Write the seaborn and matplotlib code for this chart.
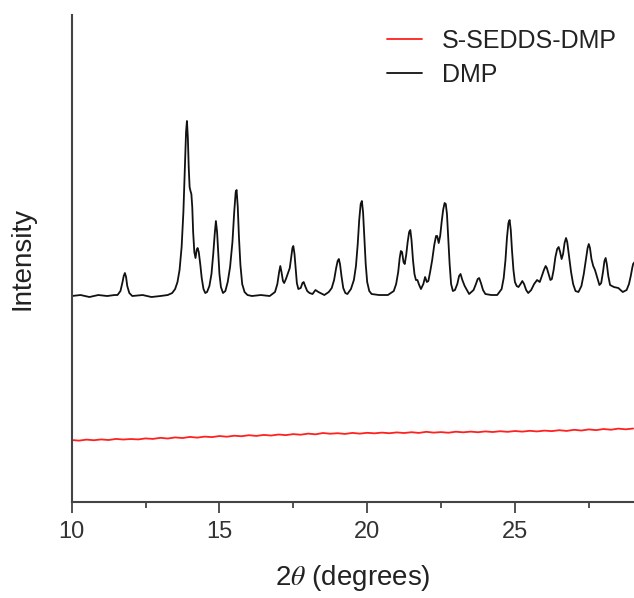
import numpy as np
import pandas as pd
import seaborn as sns
import matplotlib
matplotlib.use("Agg")
import matplotlib.pyplot as plt
from matplotlib.ticker import MultipleLocator

# DMP pattern (2theta in degrees, intensity in a.u.)
dmp_2theta = [10.00, 10.30, 10.60, 10.90, 11.20, 11.45, 11.55, 11.65, 11.72, 11.76,
              11.80, 11.84, 11.88, 11.95, 12.05, 12.40, 12.70, 13.00, 13.25, 13.40,
              13.50, 13.58, 13.65, 13.72, 13.78, 13.83, 13.87, 13.90, 13.93, 13.96,
              13.99, 14.02, 14.05, 14.08, 14.11, 14.15, 14.19, 14.23, 14.26, 14.30,
              14.35, 14.40, 14.46, 14.52, 14.58, 14.66, 14.73, 14.79, 14.84, 14.88,
              14.92, 14.96, 15.00, 15.05, 15.12, 15.20, 15.28, 15.36, 15.44, 15.50,
              15.55, 15.58, 15.62, 15.66, 15.71, 15.77, 15.85, 15.95, 16.10, 16.40,
              16.70, 16.88, 16.96, 17.02, 17.06, 17.10, 17.15, 17.19, 17.25, 17.32,
              17.38, 17.43, 17.47, 17.50, 17.54, 17.58, 17.62, 17.67, 17.75, 17.81,
              17.85, 17.90, 17.97, 18.05, 18.15, 18.25, 18.35, 18.55, 18.70, 18.80,
              18.88, 18.95, 19.00, 19.04, 19.08, 19.13, 19.19, 19.26, 19.33, 19.45,
              19.55, 19.62, 19.68, 19.73, 19.78, 19.82, 19.86, 19.90, 19.95, 20.00,
              20.07, 20.15, 20.40, 20.70, 20.90, 20.98, 21.05, 21.10, 21.14, 21.18,
              21.23, 21.27, 21.32, 21.37, 21.42, 21.46, 21.50, 21.55, 21.60, 21.65,
              21.70, 21.76, 21.82, 21.90, 21.96, 22.02, 22.07, 22.13, 22.20, 22.27,
              22.33, 22.37, 22.42, 22.47, 22.52, 22.57, 22.62, 22.66, 22.70, 22.74,
              22.79, 22.84, 22.90, 22.97, 23.05, 23.11, 23.16, 23.22, 23.30, 23.45,
              23.60, 23.68, 23.74, 23.79, 23.85, 23.92, 24.00, 24.20, 24.40, 24.55,
              24.62, 24.68, 24.73, 24.78, 24.82, 24.86, 24.90, 24.95, 25.00, 25.06,
              25.12, 25.19, 25.25, 25.31, 25.38, 25.45, 25.55, 25.65, 25.75, 25.84,
              25.90, 25.98, 26.04, 26.08, 26.14, 26.20, 26.25, 26.31, 26.37, 26.43,
              26.48, 26.53, 26.58, 26.63, 26.68, 26.73, 26.77, 26.83, 26.90, 26.97,
              27.05, 27.15, 27.25, 27.33, 27.40, 27.46, 27.50, 27.54, 27.59, 27.65,
              27.71, 27.78, 27.86, 27.92, 27.98, 28.03, 28.07, 28.11, 28.16, 28.22,
              28.35, 28.50, 28.65, 28.78, 28.86, 28.92, 28.97, 29.00, 29.05]
dmp_int = [206, 207, 205, 207, 206, 207, 207, 211, 220, 226,
           229, 225, 216, 209, 206, 207, 205, 206, 207, 209,
           213, 220, 232, 255, 290, 335, 370, 381, 365, 335,
           315, 311, 308, 295, 270, 250, 244, 252, 254, 250,
           238, 224, 213, 209, 210, 216, 228, 248, 268, 281,
           270, 248, 228, 215, 209, 211, 220, 235, 260, 290,
           310, 312, 295, 265, 237, 218, 210, 207, 206, 207,
           206, 210, 218, 230, 236, 230, 221, 219, 223, 229,
           234, 245, 254, 256, 248, 233, 219, 213, 214, 219,
           220, 216, 211, 209, 208, 212, 210, 207, 210, 214,
           222, 234, 241, 243, 238, 226, 214, 209, 208, 213,
           222, 236, 258, 282, 298, 301, 290, 266, 238, 220,
           211, 208, 207, 207, 211, 218, 230, 244, 251, 250,
           240, 238, 247, 260, 270, 272, 262, 242, 228, 222,
           222, 217, 213, 218, 225, 220, 221, 230, 242, 257,
           266, 266, 259, 266, 280, 292, 299, 298, 288, 266,
           238, 218, 211, 212, 218, 226, 228, 222, 216, 208,
           212, 218, 223, 224, 219, 212, 208, 207, 207, 213,
           224, 242, 264, 279, 282, 272, 252, 232, 220, 216,
           215, 218, 221, 218, 212, 209, 212, 218, 222, 220,
           225, 232, 236, 234, 228, 222, 223, 232, 245, 253,
           255, 250, 243, 248, 259, 264, 260, 246, 230, 218,
           211, 210, 216, 228, 242, 254, 258, 254, 243, 236,
           232, 225, 217, 219, 230, 241, 244, 238, 226, 217,
           215, 214, 210, 212, 218, 226, 234, 238, 240]

# S-SEDDS-DMP pattern (amorphous, almost flat)
sedds_2theta = [10.00, 10.25, 10.50, 10.75, 11.00, 11.25, 11.50, 11.75, 12.00, 12.25,
                12.50, 12.75, 13.00, 13.25, 13.50, 13.75, 14.00, 14.25, 14.50, 14.75,
                15.00, 15.25, 15.50, 15.75, 16.00, 16.25, 16.50, 16.75, 17.00, 17.25,
                17.50, 17.75, 18.00, 18.25, 18.50, 18.75, 19.00, 19.25, 19.50, 19.75,
                20.00, 20.25, 20.50, 20.75, 21.00, 21.25, 21.50, 21.75, 22.00, 22.25,
                22.50, 22.75, 23.00, 23.25, 23.50, 23.75, 24.00, 24.25, 24.50, 24.75,
                25.00, 25.25, 25.50, 25.75, 26.00, 26.25, 26.50, 26.75, 27.00, 27.25,
                27.50, 27.75, 28.00, 28.25, 28.50, 28.75, 29.00]
sedds_int = [62.0, 61.4, 62.4, 61.8, 62.6, 62.0, 63.1, 62.5, 63.0, 62.6,
             63.6, 63.1, 64.2, 63.5, 64.6, 64.0, 65.1, 64.4, 65.4, 64.9,
             66.0, 65.3, 66.3, 65.8, 66.8, 66.1, 67.1, 66.5, 67.5, 66.9,
             67.9, 67.3, 68.4, 67.7, 69.0, 68.3, 68.8, 68.1, 69.1, 68.4,
             69.2, 68.7, 69.4, 68.8, 69.6, 69.0, 69.8, 69.1, 70.2, 69.4,
             69.9, 69.3, 70.3, 69.7, 70.4, 69.8, 70.6, 70.0, 70.8, 70.2,
             71.0, 70.4, 71.2, 70.6, 71.4, 70.9, 71.8, 71.1, 72.2, 71.5,
             72.6, 71.9, 73.0, 72.3, 73.4, 72.7, 73.5]

sns.set_style("ticks")
plt.rcParams['font.family'] = ['Liberation Sans', 'DejaVu Sans']
plt.rcParams['mathtext.fontset'] = 'stix'

fig = plt.figure(figsize=(6.34, 5.98), dpi=100)
ax = fig.add_axes([0.1131, 0.1605, 0.8869, 0.8144])

sns.lineplot(x=sedds_2theta, y=sedds_int, ax=ax, color='#ff2020', lw=1.3,
             label='S-SEDDS-DMP')
sns.lineplot(x=dmp_2theta, y=dmp_int, ax=ax, color='#111111', lw=1.3,
             label='DMP')

ax.set_xlim(10, 29.03)
ax.set_ylim(0, 487)
ax.set_yticks([])
ax.xaxis.set_major_locator(MultipleLocator(5))
ax.xaxis.set_minor_locator(MultipleLocator(2.5))
ax.tick_params(axis='x', which='major', length=8, width=1.3, color='#444444',
               labelsize=17, labelcolor='#333333', pad=6)
ax.tick_params(axis='x', which='minor', length=4, width=1.3, color='#444444')

for side in ['top', 'right']:
    ax.spines[side].set_visible(False)
for side in ['left', 'bottom']:
    ax.spines[side].set_color('#444444')
    ax.spines[side].set_linewidth(1.5)

ax.set_xlabel(r'2$\theta$ (degrees)', fontsize=20, color='#222222', labelpad=14)
ax.set_ylabel('Intensity', fontsize=20, color='#222222', labelpad=26)

ax.legend(loc='upper right', bbox_to_anchor=(1.01, 1.018), frameon=False,
          fontsize=18, handlelength=1.4, handletextpad=0.8, labelspacing=0.4,
          labelcolor='#222222')

fig.savefig('out.png', dpi=100)
